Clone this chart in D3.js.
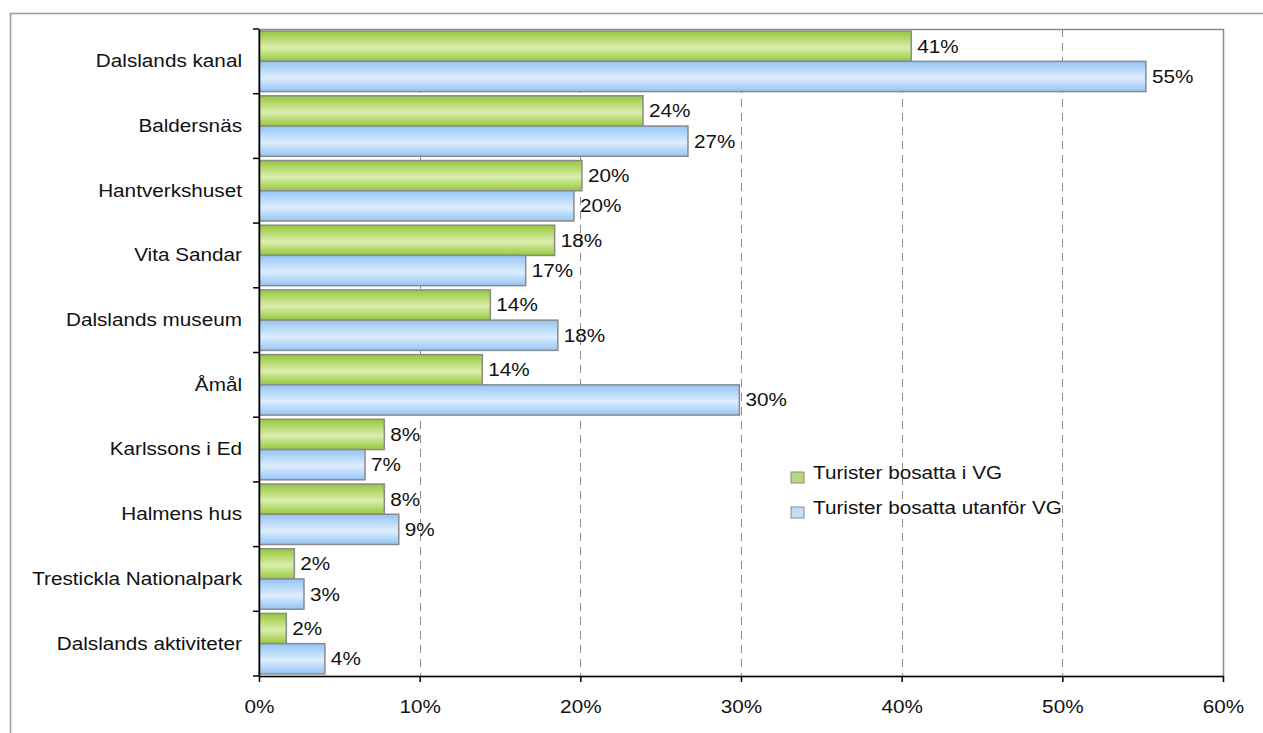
<!DOCTYPE html>
<html>
<head>
<meta charset="utf-8">
<script src="https://cdn.jsdelivr.net/npm/d3@7"></script>
<style>
  body { margin: 0; background: #fff; }
  text { font-family: "Liberation Sans", Arial, sans-serif; fill: #111; }
</style>
</head>
<body>
<div id="chart"></div>
<script>
var categories = ["Dalslands kanal", "Baldersnäs", "Hantverkshuset", "Vita Sandar", "Dalslands museum",
  "Åmål", "Karlssons i Ed", "Halmens hus", "Trestickla Nationalpark", "Dalslands aktiviteter"];
var seriesNames = ["Turister bosatta i VG", "Turister bosatta utanför VG"];
var inVG = [40.6, 23.9, 20.1, 18.4, 14.4, 13.9, 7.8, 7.8, 2.2, 1.7];
var outVG = [55.2, 26.7, 19.6, 16.6, 18.6, 29.9, 6.6, 8.7, 2.8, 4.1];
var labelsIn = ["41%", "24%", "20%", "18%", "14%", "14%", "8%", "8%", "2%", "2%"];
var labelsOut = ["55%", "27%", "20%", "17%", "18%", "30%", "7%", "9%", "3%", "4%"];
var xTicks = [0, 10, 20, 30, 40, 50, 60];

var width = 1263, height = 733;
var margin = {left: 259, right: 40, top: 29, bottom: 57};
var fontSize = 18.5, stretchX = 1.12;

var svg = d3.select("#chart").append("svg")
  .attr("width", width).attr("height", height);

// text in the original is a bit wider than Arial, so stretch it
function stretch(sel) {
  sel.each(function(){
    var t = d3.select(this);
    var tx = +t.attr("x") || 0;
    t.attr("x", 0)
     .attr("transform", "translate(" + tx + ",0) scale(" + stretchX + ",1)");
  });
}

var defs = svg.append("defs");
function grad(id, edge, mid) {
  var g = defs.append("linearGradient").attr("id", id)
    .attr("x1", 0).attr("y1", 0).attr("x2", 0).attr("y2", 1);
  g.append("stop").attr("offset", "0%").attr("stop-color", edge);
  g.append("stop").attr("offset", "55%").attr("stop-color", mid);
  g.append("stop").attr("offset", "100%").attr("stop-color", edge);
}
grad("gGreen", "#95c83a", "#dcedae");
grad("gBlue", "#94c5f6", "#deedfd");

// outer frame
svg.append("rect").attr("x", 10.5).attr("y", 13.5)
  .attr("width", 1300).attr("height", 800)
  .attr("fill", "none").attr("stroke", "#999").attr("stroke-width", 1.5);

var x = d3.scaleLinear().domain([0, 60]).range([margin.left, width - margin.right]);
var y = d3.scaleBand().domain(categories).range([margin.top, height - margin.bottom]);
var inner = d3.scaleBand().domain([0, 1]).range([0, y.bandwidth()]).paddingOuter(0.07);

// plot area border
svg.append("rect")
  .attr("x", x(0)).attr("y", margin.top + 0.5)
  .attr("width", x(60) - x(0) + 0.5).attr("height", y.range()[1] - margin.top)
  .attr("fill", "none").attr("stroke", "#8c8c8c").attr("stroke-width", 1.5);

// dashed grid
svg.append("g").selectAll("line")
  .data(xTicks.slice(1, -1))
  .enter().append("line")
  .attr("x1", function(d){ return Math.round(x(d)) + 0.5; })
  .attr("x2", function(d){ return Math.round(x(d)) + 0.5; })
  .attr("y1", margin.top).attr("y2", y.range()[1])
  .attr("stroke", "#8c8c8c").attr("stroke-dasharray", "8,6");

var rows = categories.map(function(c, i){
  return {cat: c, vals: [inVG[i], outVG[i]], labels: [labelsIn[i], labelsOut[i]]};
});

var fills = ["url(#gGreen)", "url(#gBlue)"];
var group = svg.append("g").selectAll("g")
  .data(rows).enter().append("g")
  .attr("transform", function(d){ return "translate(0," + y(d.cat) + ")"; });

group.selectAll("rect")
  .data(function(d){ return d.vals; })
  .enter().append("rect")
  .attr("x", x(0))
  .attr("y", function(d, i){ return inner(i); })
  .attr("width", function(d){ return x(d) - x(0); })
  .attr("height", inner.bandwidth())
  .attr("fill", function(d, i){ return fills[i]; })
  .attr("stroke", "#8a8a8a").attr("stroke-width", 1.5);

group.selectAll("text")
  .data(function(d){ return d.vals.map(function(v, i){ return {v: v, t: d.labels[i]}; }); })
  .enter().append("text")
  .attr("x", function(d){ return x(d.v) + 6; })
  .attr("y", function(d, i){ return inner(i) + inner.bandwidth() / 2; })
  .attr("dy", "0.35em")
  .attr("font-size", fontSize)
  .text(function(d){ return d.t; })
  .call(stretch);

// axes
var yAxis = d3.axisLeft(y).tickSize(0).tickPadding(17);
var gy = svg.append("g").attr("transform", "translate(" + x(0) + ",0)").call(yAxis);
gy.select(".domain").attr("stroke", "#000").attr("stroke-width", 1.5);
gy.selectAll("text").attr("font-size", fontSize)
  .style("font-family", "Liberation Sans, Arial, sans-serif").attr("fill", "#111")
  .call(stretch);
gy.selectAll(".sep").data(categories.concat([""]))
  .enter().append("line").attr("class", "sep")
  .attr("x1", -6).attr("x2", 0)
  .attr("y1", function(d, i){ return margin.top + i * y.step(); })
  .attr("y2", function(d, i){ return margin.top + i * y.step(); })
  .attr("stroke", "#000").attr("stroke-width", 1.5);

var xAxis = d3.axisBottom(x).tickValues(xTicks)
  .tickFormat(function(d){ return d + "%"; })
  .tickSize(6).tickSizeOuter(0).tickPadding(18);
var gx = svg.append("g").attr("transform", "translate(0," + y.range()[1] + ")").call(xAxis);
gx.select(".domain").attr("stroke", "#000").attr("stroke-width", 1.5);
gx.selectAll("line").attr("stroke", "#000").attr("stroke-width", 1.5);
gx.selectAll("text").attr("font-size", fontSize)
  .style("font-family", "Liberation Sans, Arial, sans-serif").attr("fill", "#111")
  .call(stretch);

// legend
var legendColors = ["#b6d97c", "#c4def8"];
var legend = svg.append("g").attr("transform", "translate(791,468)")
  .selectAll("g").data(seriesNames).enter().append("g")
  .attr("transform", function(d, i){ return "translate(0," + (i * 35) + ")"; });
legend.append("rect").attr("y", 4).attr("width", 13).attr("height", 11)
  .attr("fill", function(d, i){ return legendColors[i]; })
  .attr("stroke", "#8a8a8a");
legend.append("text").attr("x", 22).attr("y", 5).attr("dy", "0.35em")
  .attr("font-size", fontSize).text(function(d){ return d; })
  .call(stretch);
</script>
</body>
</html>
